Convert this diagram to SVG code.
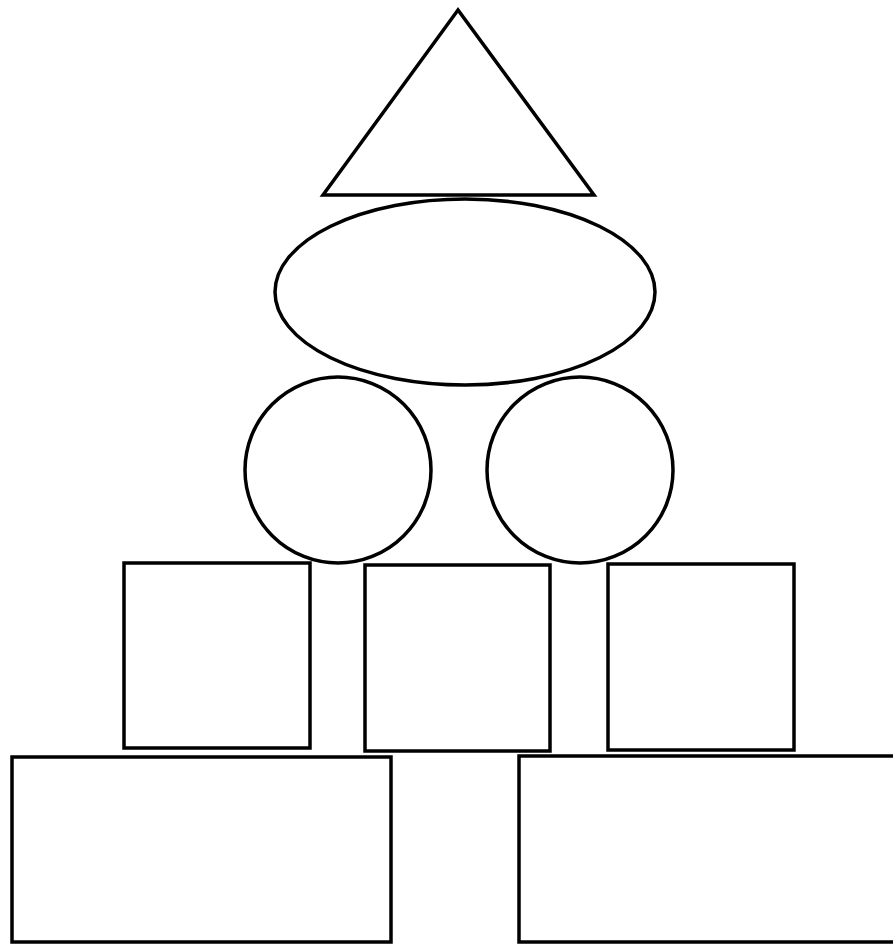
<svg xmlns="http://www.w3.org/2000/svg" width="893" height="945" viewBox="0 0 893 945">
<style>
.s{fill:#fff;stroke:#000;stroke-width:3.5}
</style>
<rect width="893" height="945" fill="#fff"/>
<g id="triangle"><polygon class="s" points="458,10 323,195 594,195"/></g>
<g id="ellipse"><ellipse class="s" cx="465" cy="292" rx="190" ry="93"/></g>
<g id="circle-left"><circle class="s" cx="338" cy="470" r="93"/></g>
<g id="circle-right"><circle class="s" cx="580" cy="470" r="93"/></g>
<g id="square-left"><rect class="s" x="124" y="563" width="186" height="185"/></g>
<g id="square-middle"><rect class="s" x="365" y="565" width="185" height="186"/></g>
<g id="square-right"><rect class="s" x="608" y="564" width="186" height="186"/></g>
<g id="rect-bottom-left"><rect class="s" x="12" y="757" width="379" height="185"/></g>
<g id="rect-bottom-right"><rect class="s" x="519" y="756" width="390" height="186"/></g>
<g id="connectors"></g>
</svg>
